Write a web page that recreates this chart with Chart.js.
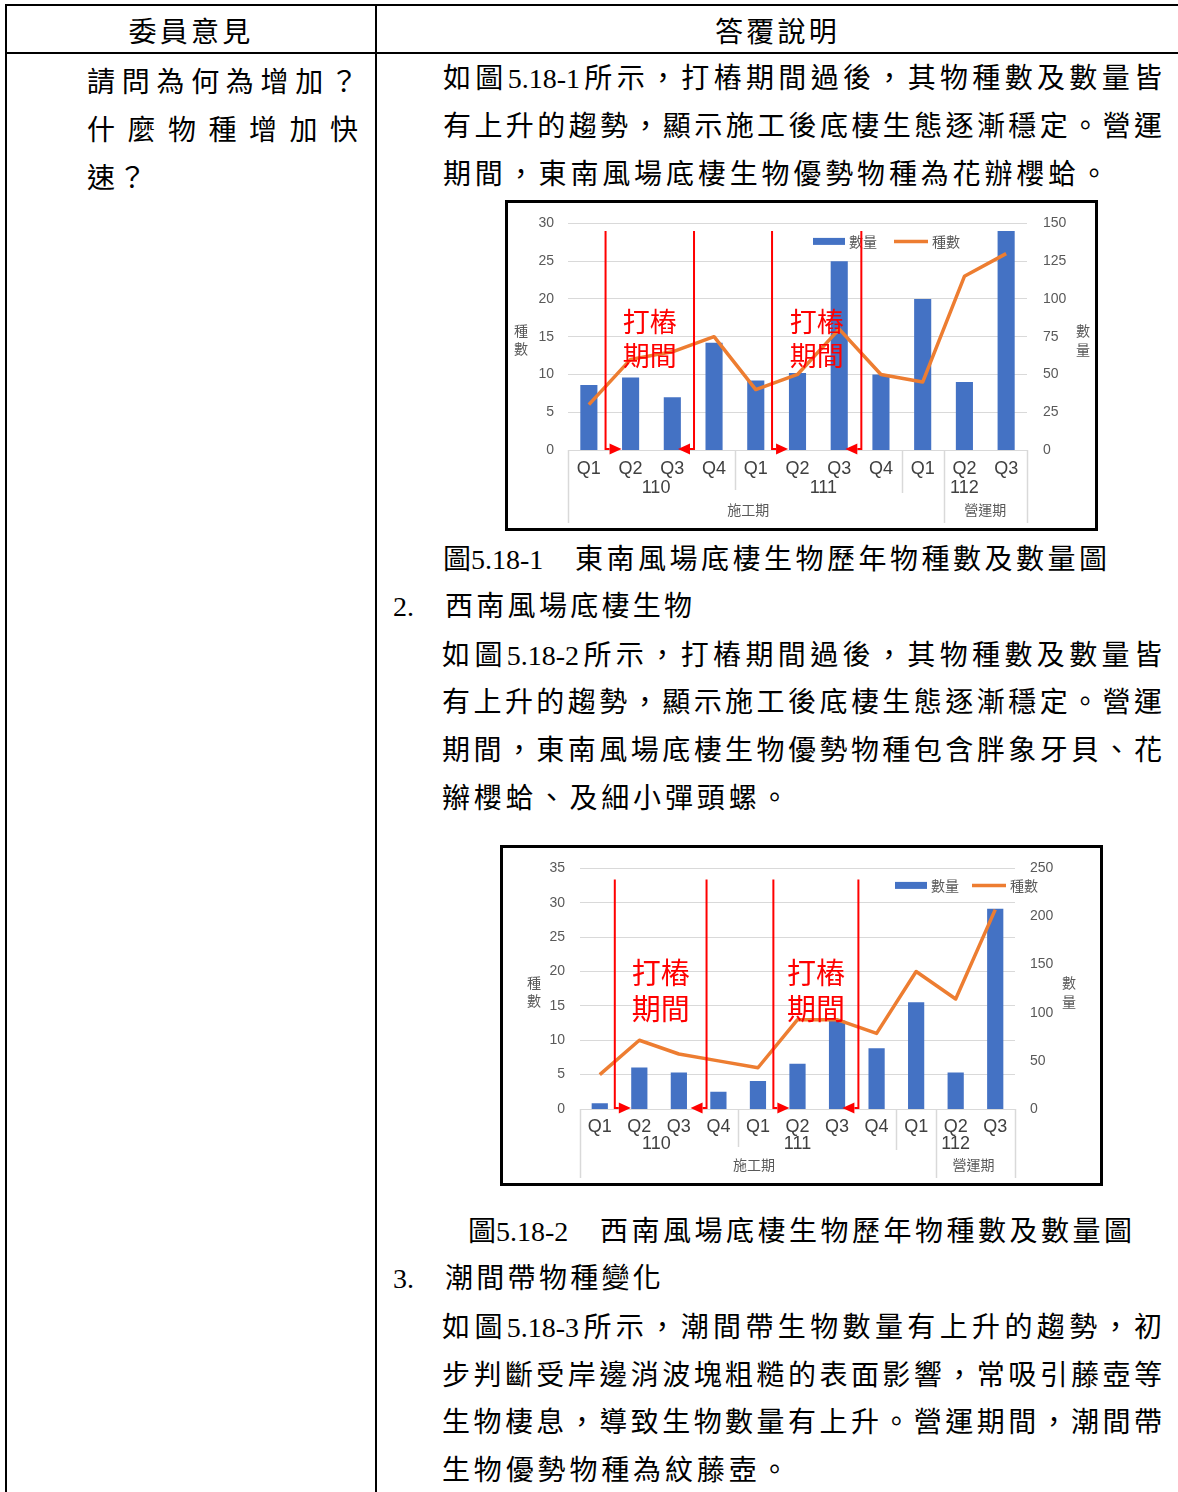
<!DOCTYPE html>
<html lang="zh-Hant">
<head>
  <meta charset="UTF-8" />
  <title>底棲生物歷年物種數及數量圖</title>
  <script src="https://cdn.jsdelivr.net/npm/chart.js"></script>
  <style>
    body {
      margin: 0;
      width: 1178px;
      height: 1492px;
      overflow: hidden;
      background: #fff;
      color: #000;
      font-family: "Liberation Serif", "Noto Sans CJK TC", serif;
      position: relative;
    }
    .rule { position: absolute; background: #000; }
    .ln {
      position: absolute;
      height: 48px;
      line-height: 48px;
      font-size: 28px;
      white-space: nowrap;
    }
    .j { text-align: justify; text-align-last: justify; white-space: normal; }
    .sp { letter-spacing: 3.3px; }
    .sp2 { letter-spacing: 3.85px; }
    .box {
      position: absolute;
      border: 3px solid #000;
      box-sizing: border-box;
    }
    .box canvas { display: block; }
  </style>
</head>
<body>
  <!-- table lines -->
  <div class="rule" style="left:5px;top:4px;width:1173px;height:2px"></div>
  <div class="rule" style="left:5px;top:52px;width:1173px;height:2px"></div>
  <div class="rule" style="left:5px;top:4px;width:2px;height:1488px"></div>
  <div class="rule" style="left:375px;top:4px;width:2px;height:1488px"></div>

  <!-- header -->
  <div class="ln sp" style="left:7px;top:9px;width:368px;text-align:center">委員意見</div>
  <div class="ln sp" style="left:377px;top:9px;width:801px;text-align:center">答覆說明</div>

  <!-- left column -->
  <div class="ln j" style="left:87px;top:59px;width:271px">請問為何為增加？</div>
  <div class="ln j" style="left:87px;top:107px;width:271px">什麼物種增加快</div>
  <div class="ln sp" style="left:87px;top:155px">速？</div>

  <!-- right column -->
  <div class="ln j" style="left:443px;top:55px;width:719px">如圖5.18-1所示，打樁期間過後，其物種數及數量皆</div>
  <div class="ln j" style="left:443px;top:103px;width:719px">有上升的趨勢，顯示施工後底棲生態逐漸穩定。營運</div>
  <div class="ln sp2" style="left:443px;top:151px">期間，東南風場底棲生物優勢物種為花辦櫻蛤。</div>

  <div class="box" style="left:505px;top:200px;width:593px;height:331px">
    <canvas id="chartEast" width="587" height="329" style="margin-top:-4px"></canvas>
  </div>

  <div class="ln" style="left:443px;top:536px">圖5.18-1</div>
  <div class="ln" style="left:575px;top:536px;letter-spacing:3.5px">東南風場底棲生物歷年物種數及數量圖</div>
  <div class="ln" style="left:393px;top:583px">2.</div>
  <div class="ln sp" style="left:445px;top:583px">西南風場底棲生物</div>

  <div class="ln j" style="left:442px;top:632px;width:720px">如圖5.18-2所示，打樁期間過後，其物種數及數量皆</div>
  <div class="ln j" style="left:442px;top:679px;width:720px">有上升的趨勢，顯示施工後底棲生態逐漸穩定。營運</div>
  <div class="ln j" style="left:442px;top:727px;width:720px">期間，東南風場底棲生物優勢物種包含胖象牙貝、花</div>
  <div class="ln sp2" style="left:442px;top:775px">辮櫻蛤、及細小彈頭螺。</div>

  <div class="box" style="left:500px;top:845px;width:603px;height:341px">
    <canvas id="chartWest" width="597" height="338" style="margin-top:-3px"></canvas>
  </div>

  <div class="ln" style="left:468px;top:1208px">圖5.18-2</div>
  <div class="ln" style="left:600px;top:1208px;letter-spacing:3.5px">西南風場底棲生物歷年物種數及數量圖</div>
  <div class="ln" style="left:393px;top:1255px">3.</div>
  <div class="ln sp" style="left:445px;top:1255px">潮間帶物種變化</div>

  <div class="ln j" style="left:442px;top:1304px;width:720px">如圖5.18-3所示，潮間帶生物數量有上升的趨勢，初</div>
  <div class="ln j" style="left:442px;top:1352px;width:720px">步判斷受岸邊消波塊粗糙的表面影響，常吸引藤壺等</div>
  <div class="ln j" style="left:442px;top:1399px;width:720px">生物棲息，導致生物數量有上升。營運期間，潮間帶</div>
  <div class="ln sp2" style="left:442px;top:1447px">生物優勢物種為紋藤壺。</div>

  <script>
    // categories
    const quarters = ["Q1", "Q2", "Q3", "Q4", "Q1", "Q2", "Q3", "Q4", "Q1", "Q2", "Q3"];
    const years = ["110", "111", "112"];
    const periods = ["施工期", "營運期"];
    const pileText = ["打樁", "期間"];
    const countName = "數量";
    const speciesName = "種數";

    // 東南風場
    const eastCount = [43, 48, 35, 71, 46, 51, 125, 50, 100, 45, 145];
    const eastSpecies = [6, 12, 13, 15, 8, 10, 16, 10, 9, 23, 26];
    // 西南風場
    const westCount = [6, 43, 38, 18, 29, 47, 92, 63, 111, 38, 208];
    const westSpecies = [5, 10, 8, 7, 6, 13, 13, 11, 20, 16, 29];

    const BLUE = "#4472C4";
    const ORANGE = "#ED7D31";
    const GRID = "#d9d9d9";
    const GREY = "#595959";
    const CJK = '"Noto Sans CJK TC", sans-serif';

    // 標註: 年份/期別標籤、分隔線、打樁箭頭、圖例、軸標題
    const extras = {
      id: "extras",
      afterDraw(chart, args, o) {
        const { ctx, chartArea: a } = chart;
        const x = chart.scales.x, y = chart.scales.y;
        const px = v => x.getPixelForValue(v);
        ctx.save();

        // group separators under the axis
        ctx.strokeStyle = GRID;
        ctx.lineWidth = 1.5;
        o.cuts.forEach(([k, len]) => {
          const cx = Math.round(px(k - 0.5)) + 0.5;
          ctx.beginPath();
          ctx.moveTo(cx, a.bottom);
          ctx.lineTo(cx, a.bottom + len);
          ctx.stroke();
        });

        // year / period labels
        ctx.textAlign = "center";
        ctx.textBaseline = "middle";
        ctx.fillStyle = "#404040";
        ctx.font = '18px "Liberation Sans", Arial, sans-serif';
        years.forEach((t, i) => ctx.fillText(t, px(o.yearAt[i]), a.bottom + o.yearDy));
        ctx.fillStyle = GREY;
        ctx.font = "14px " + CJK;
        periods.forEach((t, i) => ctx.fillText(t, px(o.periodAt[i]), a.bottom + o.periodDy));

        // axis titles (stacked characters)
        [...speciesName].forEach((c, i) => ctx.fillText(c, o.titleL, a.top + o.titleDy + i * 18));
        [...countName].forEach((c, i) => ctx.fillText(c, o.titleR, a.top + o.titleDy + i * 19));

        // legend
        const lx = o.legendX, ly = a.top + o.legendDy;
        ctx.fillStyle = BLUE;
        ctx.fillRect(lx, ly - 3.5, 32, 7);
        ctx.fillStyle = GREY;
        ctx.textAlign = "left";
        ctx.fillText(countName, lx + 36, ly);
        ctx.strokeStyle = ORANGE;
        ctx.lineWidth = 3.5;
        ctx.beginPath();
        ctx.moveTo(lx + o.legendGap, ly);
        ctx.lineTo(lx + o.legendGap + 34, ly);
        ctx.stroke();
        ctx.fillText(speciesName, lx + o.legendGap + 38, ly);

        // pile driving periods: red arrows + label
        ctx.strokeStyle = "#ff0000";
        ctx.fillStyle = "#ff0000";
        const top = y.getPixelForValue(o.markTop);
        const bot = a.bottom - 1;
        o.piles.forEach(([s, e]) => {
          [[px(s), 1], [px(e), -1]].forEach(([mx, dir]) => {
            ctx.lineWidth = 2;
            ctx.beginPath();
            ctx.moveTo(mx, top);
            ctx.lineTo(mx, bot);
            ctx.lineTo(mx + dir * 4, bot);
            ctx.stroke();
            ctx.beginPath();
            ctx.moveTo(mx + dir * 4, bot - 5.5);
            ctx.lineTo(mx + dir * 16, bot);
            ctx.lineTo(mx + dir * 4, bot + 5.5);
            ctx.closePath();
            ctx.fill();
          });
          ctx.textAlign = "center";
          ctx.font = o.pileFont + "px " + CJK;
          const cx = (px(s) + px(e)) / 2;
          pileText.forEach((t, i) => ctx.fillText(t, cx, a.top + o.pileDy[i]));
        });
        ctx.restore();
      }
    };

    function makeChart(id, counts, species, o) {
      const tickFont = { family: '"Liberation Sans", Arial, sans-serif', size: 14 };
      return new Chart(document.getElementById(id), {
        type: "bar",
        data: {
          labels: quarters,
          datasets: [
            {
              type: "line",
              label: speciesName,
              data: species,
              yAxisID: "y",
              borderColor: ORANGE,
              borderWidth: 3.5,
              borderJoinStyle: "round",
              pointRadius: 0,
              tension: 0,
              order: 1
            },
            {
              type: "bar",
              label: countName,
              data: counts,
              yAxisID: "y1",
              backgroundColor: BLUE,
              barPercentage: 0.41,
              categoryPercentage: 1,
              order: 2
            }
          ]
        },
        options: {
          responsive: false,
          animation: false,
          layout: { padding: { top: o.padTop } },
          plugins: { legend: { display: false }, tooltip: { enabled: false }, extras: o },
          scales: {
            x: {
              grid: { display: false },
              border: { display: true, color: GRID },
              ticks: {
                color: "#404040",
                font: { family: '"Liberation Sans", Arial, sans-serif', size: 18 },
                padding: o.qPad,
                maxRotation: 0,
                autoSkip: false
              },
              afterFit: s => { s.height = o.xH; }
            },
            y: {
              position: "left",
              min: 0,
              max: o.yMax,
              ticks: { stepSize: 5, color: GREY, font: tickFont, padding: o.yPad },
              grid: { color: GRID, drawTicks: false },
              border: { display: false },
              afterFit: s => { s.width = o.yW; }
            },
            y1: {
              position: "right",
              min: 0,
              max: o.y1Max,
              ticks: { stepSize: o.y1Step, color: GREY, font: tickFont, padding: o.y1Pad },
              grid: { display: false, drawTicks: false },
              border: { display: false },
              afterFit: s => { s.width = o.y1W; }
            }
          }
        },
        plugins: [extras]
      });
    }

    makeChart("chartEast", eastCount, eastSpecies, {
      padTop: 15, xH: 78, yW: 60, y1W: 68, qPad: 0, yPad: 14, y1Pad: 16,
      yMax: 30, y1Max: 150, y1Step: 25,
      cuts: [[0, 73], [4, 40], [8, 43], [9, 73], [11, 73]],
      yearAt: [1.61, 5.62, 9], yearDy: 38,
      periodAt: [3.82, 9.5], periodDy: 60,
      titleL: 13, titleR: 575, titleDy: 107,
      legendX: 305, legendDy: 18, legendGap: 81,
      piles: [[0.4, 2.52], [4.39, 6.53]], markTop: 29,
      pileFont: 27, pileDy: [98, 132]
    });

    makeChart("chartWest", westCount, westSpecies, {
      padTop: 15, xH: 74, yW: 77, y1W: 85, qPad: -1, yPad: 15, y1Pad: 15,
      yMax: 35, y1Max: 250, y1Step: 50,
      cuts: [[0, 69], [4, 38], [8, 41], [9, 69], [11, 69]],
      yearAt: [1.43, 5, 9], yearDy: 35,
      periodAt: [3.9, 9.45], periodDy: 56,
      titleL: 31, titleR: 566, titleDy: 114,
      legendX: 392, legendDy: 17, legendGap: 77,
      piles: [[0.38, 2.7], [4.39, 6.54]], markTop: 33.4,
      pileFont: 29, pileDy: [105, 141]
    });
  </script>
</body>
</html>
